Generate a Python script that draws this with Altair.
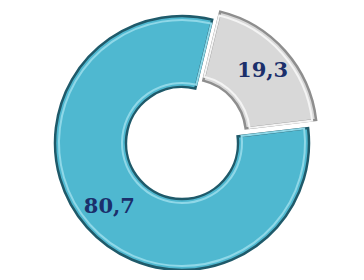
import math
import altair as alt
import pandas as pd

categories = ["Autre", "Principal"]
values = [19.3, 80.7]
labels = ["19,3", "80,7"]
order = [0, 1]
fill_colors = ["#D8D8D8", "#4FB8D0"]
edge_colors = ["#8E8E8E", "#1F5A6A"]
light_colors = ["#F4F4F4", "#8FD8E8"]

df = pd.DataFrame({"category": categories, "value": values, "label": labels, "order": order})

W, H = 346, 262
CX, CY = 174, 135
R_OUT, R_IN = 127, 56
START = 0.24
DX, DY = 8, -8

theta_scale = alt.Scale(domain=[0, 100], range=[START, START + 2 * math.pi])
fill_scale = alt.Scale(domain=categories, range=fill_colors)
edge_scale = alt.Scale(domain=categories, range=edge_colors)
light_scale = alt.Scale(domain=categories, range=light_colors)

base = (
    alt.Chart(df)
    .transform_window(cum="sum(value)", sort=[alt.SortField("order")])
    .transform_calculate(start="datum.cum - datum.value", mid="datum.cum - datum.value / 2")
)

def slice_layers(cat, dx, dy):
    b = base.transform_filter(alt.datum.category == cat)
    outer = b.mark_arc(outerRadius=R_OUT, innerRadius=R_IN, strokeWidth=2.5, xOffset=dx, yOffset=dy).encode(
        theta=alt.Theta("start:Q", scale=theta_scale),
        theta2="cum:Q",
        fill=alt.Fill("category:N", scale=fill_scale, legend=None),
        stroke=alt.Stroke("category:N", scale=edge_scale, legend=None),
        x=alt.value(CX),
        y=alt.value(CY),
    )
    inner = b.mark_arc(outerRadius=R_OUT - 4, innerRadius=R_IN + 4, strokeWidth=2, fillOpacity=0,
                       xOffset=dx, yOffset=dy).encode(
        theta=alt.Theta("start:Q", scale=theta_scale),
        theta2="cum:Q",
        stroke=alt.Stroke("category:N", scale=light_scale, legend=None),
        x=alt.value(CX),
        y=alt.value(CY),
    )
    text = b.mark_text(font="DejaVu Serif", fontWeight="bold", fontSize=21, color="#1B2F6B",
                       radius=97, dx=dx, dy=dy).encode(
        theta=alt.Theta("mid:Q", scale=theta_scale),
        text="label:N",
        x=alt.value(CX),
        y=alt.value(CY),
    )
    return [outer, inner, text]

layers = slice_layers("Principal", 0, 0) + slice_layers("Autre", DX, DY)

chart = (
    alt.layer(*layers)
    .resolve_scale(stroke="independent")
    .properties(width=W, height=H, autosize=alt.AutoSizeParams(type="none"), padding=0)
    .configure_view(stroke=None)
)

chart.save("out.html", embed_options={"renderer": "svg", "actions": False})
